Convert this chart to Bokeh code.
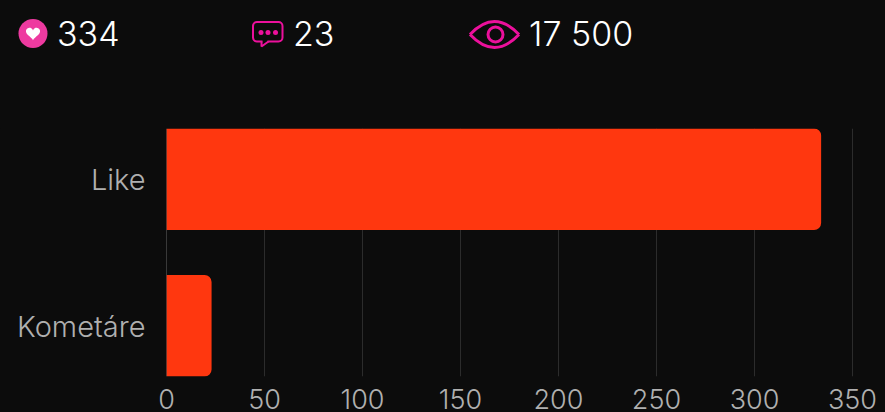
import numpy as np
from bokeh.embed import file_html
from bokeh.resources import INLINE
from bokeh.models import Range1d, FixedTicker, Span
from bokeh.plotting import figure
from bokeh.core.properties import value

categories = ["Like", "Kometáre"]
values = [334, 23]
positions = [1, 0]
x_ticks = [0, 50, 100, 150, 200, 250, 300, 350]
header_labels = ["334", "23", "17 500"]

BG = "#0c0c0c"
FONT = "Inter Light"
PINK = "#ec109c"

# header strip in pixel coordinates
h = figure(width=885, height=128, x_range=Range1d(0, 885), y_range=Range1d(128, 0),
           output_backend="svg", toolbar_location=None, background_fill_color=BG,
           border_fill_color=BG, min_border=0, outline_line_color=None)
h.axis.visible = False
h.grid.visible = False
h.text(x=[56.5, 292.5, 528.5], y=[32.5, 32.5, 32.5], text=header_labels, text_color="#ffffff",
       text_font=value(FONT), text_font_size="34px", text_font_style="normal",
       text_baseline="middle", text_align="left")
# heart icon
h.scatter([32.5], [33], size=29, marker="circle", fill_color="#ee3aa0", line_color=None)
t = np.linspace(0, 2 * np.pi, 80)
hx = 16 * np.sin(t) ** 3
hy = 13 * np.cos(t) - 5 * np.cos(2 * t) - 2 * np.cos(3 * t) - np.cos(4 * t)
h.patch(32.5 + hx * 0.44, 32.5 - hy * 0.44, fill_color="#ffffff", line_color=None)
# comment icon
h.quad(left=[252.5], right=[282], top=[21.5], bottom=[41], border_radius=4,
       fill_color=None, line_color=PINK, line_width=2)
h.line([262, 267], [41, 41], line_color=BG, line_width=3)
h.line([261, 261, 268], [41, 46, 41], line_color=PINK, line_width=2)
h.scatter([260.5, 267.5, 275], [32, 32, 32], size=5, marker="circle", fill_color=PINK, line_color=None)
# eye icon
h.quadratic(x0=[469.5, 469.5], y0=[34, 34], x1=[518.5, 518.5], y1=[34, 34],
            cx=[494, 494], cy=[8, 60], line_color=PINK, line_width=3)
h.scatter([495], [34], size=15, marker="circle", fill_color=None, line_color=PINK, line_width=3)

# chart
p = figure(width=885, height=284, x_range=Range1d(0, 719 / 1.96),
           y_range=Range1d(-50.5 / 147, 1 + 50.5 / 147),
           output_backend="svg", toolbar_location=None, background_fill_color=BG,
           border_fill_color=BG, min_border_left=166, min_border_right=0,
           min_border_top=0, min_border_bottom=36, outline_line_color=None)
p.add_layout(Span(location=0, dimension="height", line_color="#666666", line_width=1, level="underlay"))
p.hbar(y=positions, right=values, left=0, height=102 / 147, fill_color="#ff370f",
       line_color=None, border_radius=(0, 7, 7, 0))

p.xaxis.ticker = FixedTicker(ticks=x_ticks)
p.yaxis.ticker = FixedTicker(ticks=positions)
p.yaxis.major_label_overrides = dict(zip(positions, categories))
p.xaxis.axis_line_color = None
p.xaxis.major_tick_line_color = None
p.xaxis.minor_tick_line_color = None
p.yaxis.major_tick_line_color = None
p.yaxis.minor_tick_line_color = None
p.yaxis.axis_line_color = None
p.yaxis.major_label_standoff = 15
p.xaxis.major_label_standoff = 6
for ax in (p.xaxis, p.yaxis):
    ax.major_label_text_color = "#b0b0b0"
    ax.major_label_text_font = FONT
p.xaxis.major_label_text_font_size = "27px"
p.yaxis.major_label_text_font_size = "29px"
p.ygrid.visible = False
p.xgrid.grid_line_color = "#2c2c2c"
p.xgrid.grid_line_width = 1

html = file_html((h, p), INLINE)
html = html.replace("<head>", f"<head><style>html,body{{margin:0;padding:0;background:{BG};overflow:hidden}}</style>", 1)
open("out.html", "w").write(html)
